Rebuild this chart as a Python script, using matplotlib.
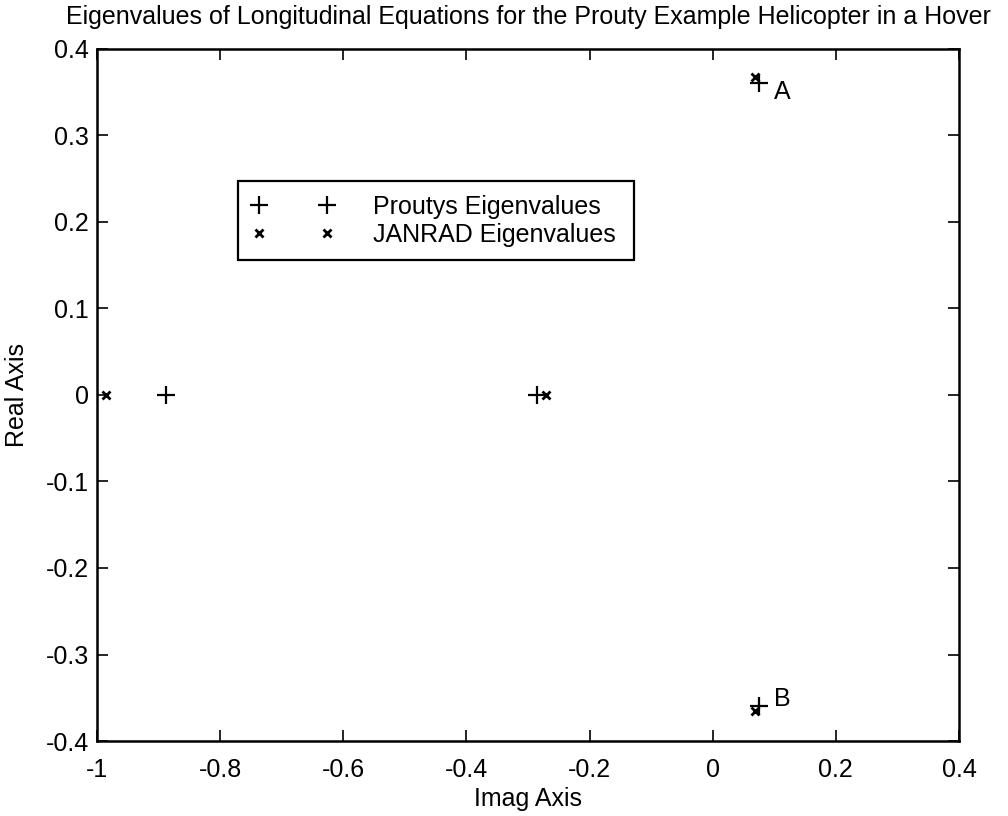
import matplotlib
matplotlib.use('Agg')
import matplotlib.pyplot as plt
from matplotlib.ticker import FuncFormatter

plt.rcParams['font.family'] = ['Liberation Sans', 'DejaVu Sans']

# eigenvalues (x = "Imag Axis", y = "Real Axis" as labelled)
prouty_x = [-0.888, -0.286, 0.075, 0.075]
prouty_y = [0.0, 0.0, 0.361, -0.360]
janrad_x = [-0.985, -0.270, 0.068, 0.068]
janrad_y = [0.0, 0.0, 0.368, -0.365]

point_labels = ['A', 'B']
label_x = [0.099, 0.099]
label_y = [0.350, -0.351]

xticks = [-1, -0.8, -0.6, -0.4, -0.2, 0, 0.2, 0.4]
yticks = [-0.4, -0.3, -0.2, -0.1, 0, 0.1, 0.2, 0.3, 0.4]

fs = 18

fig = plt.figure(figsize=(10.08, 8.16), dpi=100)
ax = fig.add_axes([0.0962, 0.0919, 0.8552, 0.8481])

ax.plot(prouty_x, prouty_y, ls='none', marker='+', ms=13, mew=1.6, c='k',
        label='Proutys Eigenvalues')
ax.plot(janrad_x, janrad_y, ls='none', marker='x', ms=6, mew=2.0, c='k',
        label='JANRAD Eigenvalues')

for t, x, y in zip(point_labels, label_x, label_y):
    ax.text(x, y, t, fontsize=fs, ha='left', va='center')

ax.set_xlim(-1, 0.4)
ax.set_ylim(-0.4, 0.4)
ax.set_xticks(xticks)
ax.set_yticks(yticks)
fmt = FuncFormatter(lambda v, p: '%g' % round(v, 2))
ax.xaxis.set_major_formatter(fmt)
ax.yaxis.set_major_formatter(fmt)
ax.tick_params(direction='in', length=8, width=1.2, top=True, right=True,
               labelsize=fs)
ax.tick_params(axis='x', pad=12)
ax.tick_params(axis='y', pad=6)
for s in ax.spines.values():
    s.set_linewidth(1.8)

ax.set_xlabel('Imag Axis', fontsize=fs, labelpad=4)
ax.set_ylabel('Real Axis', fontsize=fs, labelpad=12)
ax.set_title('Eigenvalues of Longitudinal Equations for the Prouty Example Helicopter in a Hover',
             fontsize=fs, pad=18)

# legend box spans roughly x 238-634 px, y 181-259 px in the reference
leg = ax.legend(loc='upper left', bbox_to_anchor=(0.1636, 0.696, 0.4594, 0.113),
                mode='expand', borderaxespad=0,
                numpoints=2, handlelength=3.3, fontsize=fs, fancybox=False,
                edgecolor='k', framealpha=1, borderpad=0.55, labelspacing=0.15,
                handletextpad=1.55)
leg.get_frame().set_linewidth(1.6)

fig.savefig('out.png', dpi=100)
